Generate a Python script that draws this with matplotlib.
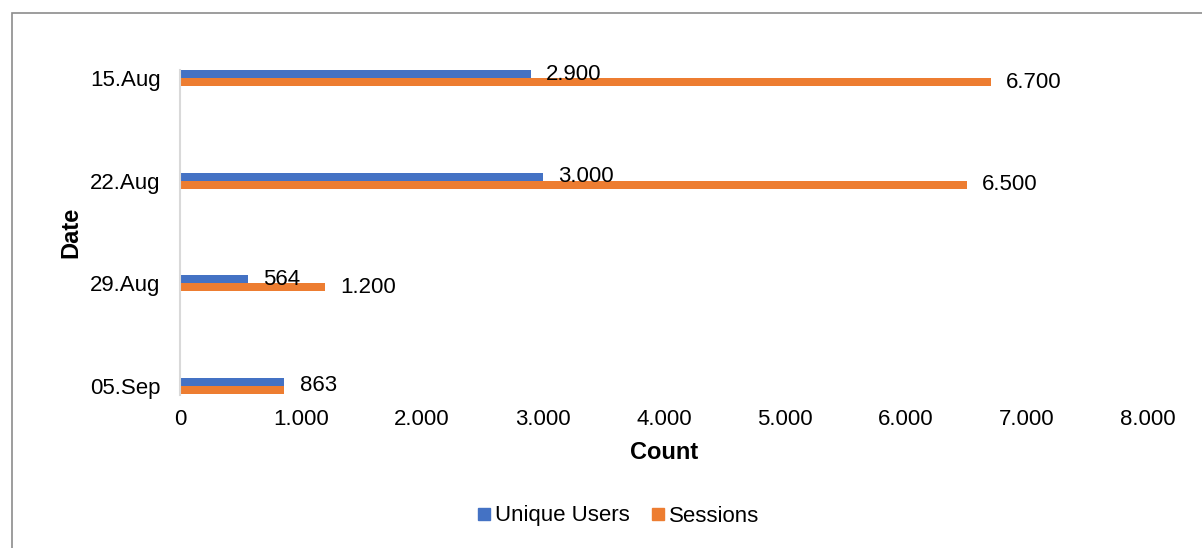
import matplotlib
matplotlib.use("Agg")
import matplotlib.pyplot as plt
from matplotlib.patches import Rectangle
from matplotlib.lines import Line2D
import numpy as np

plt.rcParams['font.family'] = ['Liberation Sans', 'DejaVu Sans']

dates = ["15.Aug", "22.Aug", "29.Aug", "05.Sep"]
unique_users = [2900, 3000, 564, 863]
sessions = [6700, 6500, 1200, 863]
x_ticks = [0, 1000, 2000, 3000, 4000, 5000, 6000, 7000, 8000]

blue = "#4472C4"
orange = "#ED7D31"


def fmt(v):
    return f"{v:,.0f}".replace(",", ".")


fig = plt.figure(figsize=(12.02, 5.48), dpi=100)
ax = fig.add_axes([180 / 1202, 1 - 395 / 548, 968 / 1202, 325 / 548])

y = np.arange(len(dates))
h = 0.08
ax.barh(y - h / 2, unique_users, height=h, color=blue, label="Unique Users")
ax.barh(y + h / 2, sessions, height=h, color=orange, label="Sessions")

ax.set_ylim(3.09, -0.08)
ax.set_xlim(0, 8000)
ax.set_yticks(y)
ax.set_yticklabels(dates)
ax.set_xticks(x_ticks)
ax.set_xticklabels([fmt(v) for v in x_ticks])
ax.tick_params(axis='both', length=0, labelsize=16)
ax.tick_params(axis='y', pad=14)
ax.tick_params(axis='x', pad=10)

for s in ["top", "right", "bottom"]:
    ax.spines[s].set_visible(False)
ax.spines["left"].set_color("#D9D9D9")
ax.spines["left"].set_linewidth(1.5)

# value labels
for i, (u, s) in enumerate(zip(unique_users, sessions)):
    if u == s:
        ax.annotate(fmt(u), (u, i), xytext=(11, 0), textcoords="offset points",
                    va="center", ha="left", fontsize=16)
        continue
    ax.annotate(fmt(u), (u, i - h / 2), xytext=(11, 0), textcoords="offset points",
                va="center", ha="left", fontsize=16)
    ax.annotate(fmt(s), (s, i + h / 2), xytext=(11, 0), textcoords="offset points",
                va="center", ha="left", fontsize=16)

ax.set_xlabel("Count", fontsize=17, fontweight="bold", labelpad=8)
fig.text(71 / 1202, 1 - 232 / 548, "Date", rotation=90, fontsize=17,
         fontweight="bold", ha="center", va="center")

handles = [Line2D([0], [0], marker="s", linestyle="none", markersize=8,
                  markerfacecolor=c, markeredgecolor=c) for c in (blue, orange)]
fig.legend(handles, ["Unique Users", "Sessions"], loc="center",
           bbox_to_anchor=(616 / 1202, 1 - 516 / 548), ncol=2, frameon=False,
           fontsize=16, handletextpad=0.0, columnspacing=0.8, handlelength=1.0)

# chart frame
fig.patches.append(Rectangle((12 / 1202, -0.1), 1.2, 1.1 - 13 / 548,
                             transform=fig.transFigure, fill=False,
                             edgecolor="#8C8C8C", linewidth=1.2))

fig.savefig("out.png", dpi=100, facecolor="white")
